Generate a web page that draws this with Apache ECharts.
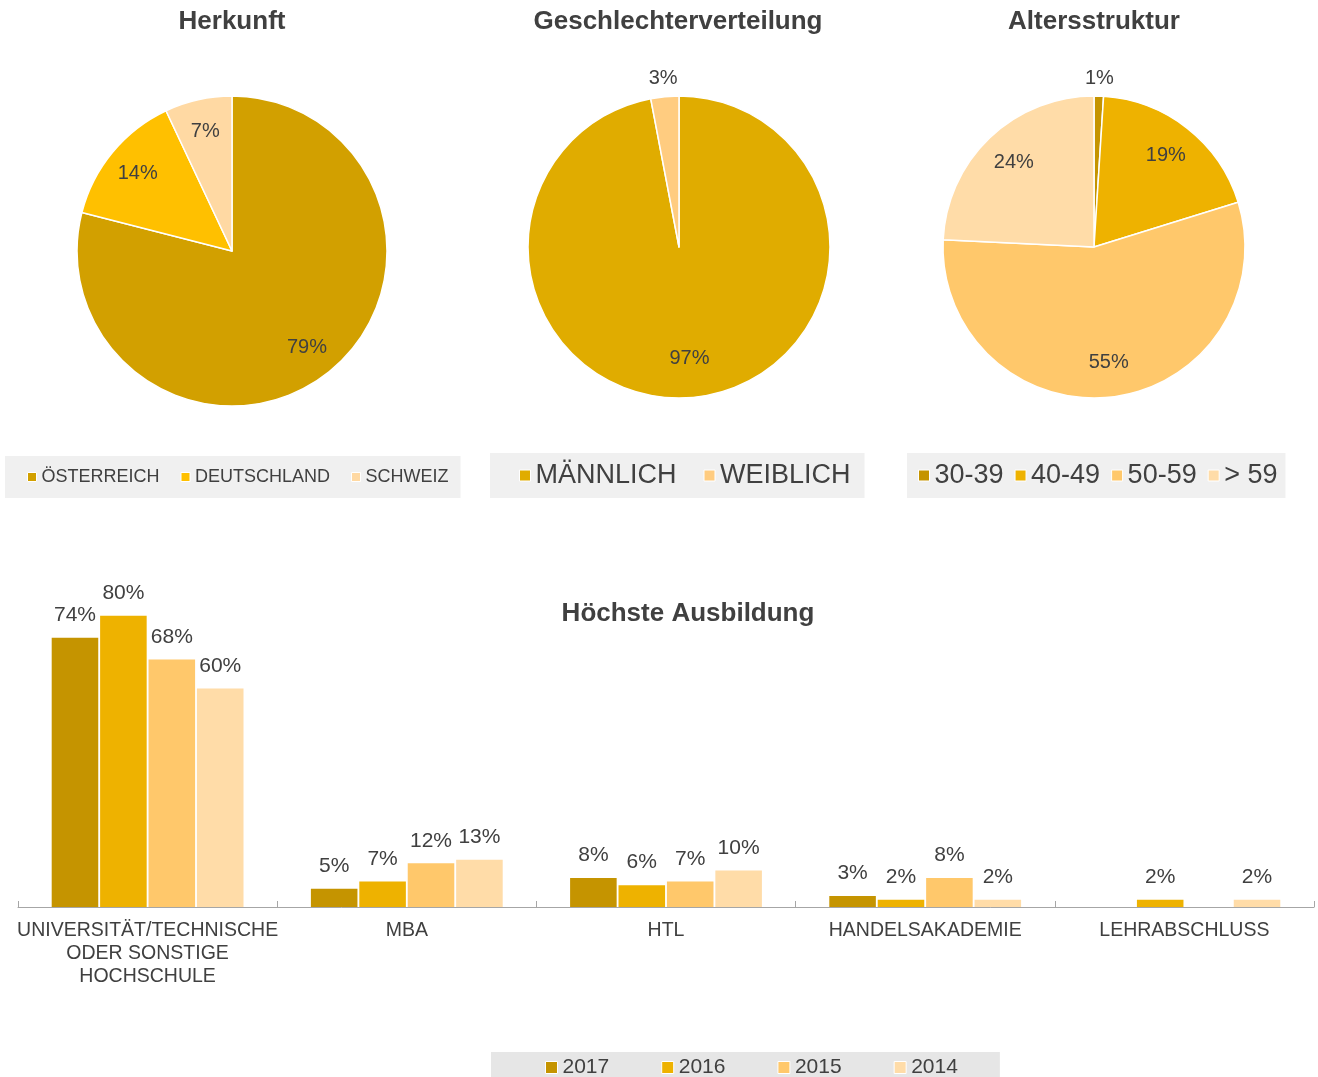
<!DOCTYPE html>
<html lang="de">
<head>
  <meta charset="UTF-8" />
  <title>Herkunft, Geschlecht, Alter, Ausbildung</title>
  <script src="https://cdn.jsdelivr.net/npm/echarts@6/dist/echarts.min.js"></script>
  <style>
    body { margin: 0; background: #fff; }
    #chart { width: 1318px; height: 1077px; }
  </style>
</head>
<body>
  <div id="chart"></div>
  <script>
    // Herkunft
    const herkunftNames = ['ÖSTERREICH', 'DEUTSCHLAND', 'SCHWEIZ'];
    const herkunftValues = [79, 14, 7];
    const herkunftColors = ['#D2A000', '#FFC000', '#FFD9A3'];

    // Geschlechterverteilung
    const geschlechtNames = ['MÄNNLICH', 'WEIBLICH'];
    const geschlechtValues = [97, 3];
    const geschlechtColors = ['#E0AC00', '#FFCC80'];

    // Altersstruktur
    const alterNames = ['30-39', '40-49', '50-59', '> 59'];
    const alterValues = [1, 19, 55, 24];
    const alterColors = ['#C59400', '#EEB200', '#FFC86B', '#FFDCA8'];

    // Höchste Ausbildung
    const ausbildungCategories = ['UNIVERSITÄT/TECHNISCHE\nODER SONSTIGE\nHOCHSCHULE', 'MBA', 'HTL', 'HANDELSAKADEMIE', 'LEHRABSCHLUSS'];
    const years = ['2017', '2016', '2015', '2014'];
    const values2017 = [74, 5, 8, 3, null];
    const values2016 = [80, 7, 6, 2, 2];
    const values2015 = [68, 12, 7, 8, null];
    const values2014 = [60, 13, 10, 2, 2];
    const yearColors = ['#C59400', '#EEB200', '#FFC86B', '#FFDCA8'];

    const FONT = 'Liberation Sans, Arial, sans-serif';
    const TXT = '#404040';

    // pie + two transparent rings that only carry the labels
    function pieSeries(names, values, colors, center, r, innerFrac) {
      const main = {
        type: 'pie', center: center, radius: r, startAngle: 90, clockwise: true,
        silent: true, avoidLabelOverlap: false,
        label: { show: false }, labelLine: { show: false },
        itemStyle: { borderColor: '#fff', borderWidth: 1.5 },
        data: names.map((n, i) => ({ name: n, value: values[i], itemStyle: { color: colors[i] } }))
      };
      const ring = (r0, r1, big) => ({
        type: 'pie', center: center, radius: [r0, r1], startAngle: 90, clockwise: true,
        silent: true, avoidLabelOverlap: false, labelLine: { show: false },
        itemStyle: { color: 'rgba(0,0,0,0)', borderWidth: 0 },
        label: { position: 'inside', formatter: '{c}%', fontSize: 20, color: TXT, fontFamily: FONT, textBorderWidth: 0 },
        data: names.map((n, i) => ({ name: n, value: values[i], label: { show: big ? values[i] >= 5 : values[i] < 5 } }))
      });
      return [main, ring(r * innerFrac, r, true), ring(r, r * 1.2, false)];
    }

    function pieLegend(names, left, top, padding, size, gap, font) {
      return {
        data: names, left: left, top: top, padding: padding, orient: 'horizontal',
        backgroundColor: '#F0F0F0', icon: 'rect', itemWidth: size, itemHeight: size, itemGap: gap,
        selectedMode: false,
        itemStyle: { borderColor: '#fff', borderWidth: 1 },
        textStyle: { fontSize: font, color: TXT, fontFamily: FONT }
      };
    }

    const barSets = [values2017, values2016, values2015, values2014];
    const barSeries = years.map((y, i) => ({
      type: 'bar', name: y, data: barSets[i], xAxisIndex: 0, yAxisIndex: 0,
      barGap: '4%', barCategoryGap: '26%',
      itemStyle: { color: yearColors[i] },
      label: { show: true, position: 'top', distance: 12, formatter: '{c}%', fontSize: 21, color: TXT, fontFamily: FONT },
      silent: true
    }));

    const titleStyle = (text, x, y) => ({
      type: 'text', x: x, y: y,
      style: { text: text, align: 'center', verticalAlign: 'middle', fill: TXT, font: 'bold 26px ' + FONT }
    });

    const chart = echarts.init(document.getElementById('chart'));
    chart.setOption({
      animation: false,
      backgroundColor: '#fff',
      textStyle: { fontFamily: FONT },
      graphic: [
        titleStyle('Herkunft', 232, 22),
        titleStyle('Geschlechterverteilung', 678, 22),
        titleStyle('Altersstruktur', 1094, 22),
        titleStyle('Höchste Ausbildung', 688, 614)
      ],
      legend: [
        pieLegend(herkunftNames, 5, 456, [12, 12, 12, 22], 9, 21, 18),
        pieLegend(geschlechtNames, 490, 453, [9, 14, 9, 29], 11, 27, 27),
        pieLegend(alterNames, 907, 453, [9, 8, 9, 11], 11, 11, 27),
        {
          data: years, left: 491, top: 1052, padding: [5, 42, 5, 54],
          backgroundColor: '#E6E6E6', icon: 'rect', itemWidth: 12, itemHeight: 12, itemGap: 52,
          selectedMode: false,
          itemStyle: { borderColor: '#fff', borderWidth: 1 },
          textStyle: { fontSize: 21, color: TXT, fontFamily: FONT }
        }
      ],
      grid: { left: 18, right: 4, top: 543, bottom: 170, containLabel: false, outerBoundsMode: 'none' },
      xAxis: {
        type: 'category', data: ausbildungCategories, boundaryGap: true,
        axisLine: { lineStyle: { color: '#A6A6A6', width: 1 } },
        axisTick: { show: true, inside: true, length: 6, alignWithLabel: false, lineStyle: { color: '#A6A6A6' } },
        axisLabel: { interval: 0, margin: 12, fontSize: 19.5, lineHeight: 23, color: TXT, fontFamily: FONT },
        splitLine: { show: false }
      },
      yAxis: { type: 'value', min: 0, max: 100, show: false, splitLine: { show: false } },
      series: [
        ...pieSeries(herkunftNames, herkunftValues, herkunftColors, [232, 251], 155, 0.54),
        ...pieSeries(geschlechtNames, geschlechtValues, geschlechtColors, [679, 247], 151, 0.44),
        ...pieSeries(alterNames, alterValues, alterColors, [1094, 247], 151, 0.5),
        ...barSeries
      ]
    });
  </script>
</body>
</html>
